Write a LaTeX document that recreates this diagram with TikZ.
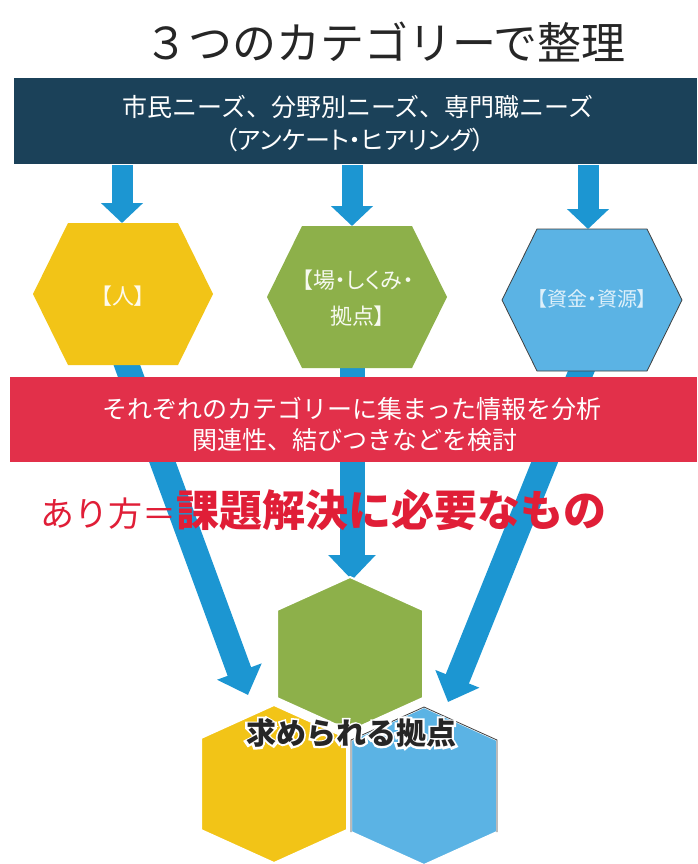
\documentclass[tikz,border=0pt]{standalone}
\usepackage{fontspec}
\setmainfont{Noto Sans CJK JP}
\newfontfamily\jpp[RawFeature=+palt]{Noto Sans CJK JP}
\newfontfamily\haloface[RawFeature={embolden=18}]{Noto Sans CJK JP}
\usetikzlibrary{arrows.meta}
\definecolor{navy}{HTML}{1B4159}
\definecolor{crim}{HTML}{E2304A}
\definecolor{hexy}{HTML}{F2C417}
\definecolor{hexg}{HTML}{8DB04A}
\definecolor{hexb}{HTML}{5BB3E4}
\definecolor{arrowblue}{HTML}{1C96D2}
\definecolor{redtxt}{HTML}{E01E37}
\definecolor{titlegray}{HTML}{262626}
\begin{document}
\begin{tikzpicture}[x=1pt,y=-1pt,
  toparrow/.style={draw=arrowblue, line width=21pt, -{Triangle[width=41pt,length=20pt]}},
  diagarrow/.style={draw=arrowblue, line width=25pt, -{Triangle[width=46pt,length=25pt]}},
  bandtext/.style={text=white, font=\fontsize{25}{25}\selectfont, align=center, inner sep=0pt},
  hexlabel/.style={font=\fontsize{22}{36}\selectfont\jpp, align=center, inner sep=0pt},
]
\useasboundingbox (0,0) rectangle (697,864);
\fill[white] (0,0) rectangle (697,864);

% coordinates for connectors
\coordinate (a1s) at (122,165); \coordinate (a1e) at (122,223);
\coordinate (a2s) at (352,165); \coordinate (a2e) at (352,226);
\coordinate (a3s) at (588,165); \coordinate (a3e) at (588,229);
\coordinate (d1s) at (125,360); \coordinate (d1e) at (248,695);
\coordinate (d2s) at (352,360); \coordinate (d2e) at (352,580);
\coordinate (d3s) at (585,362); \coordinate (d3e) at (448,702);

% long arrows behind boxes
\draw[diagarrow] (d1s) -- (d1e);
\draw[diagarrow] (d2s) -- (d2e);
\draw[diagarrow] (d3s) -- (d3e);

% title
\node[text=titlegray, font=\fontsize{44}{44}\selectfont, inner sep=0pt] (title) at (385,42) {３つのカテゴリーで整理};

% needs band
\fill[navy] (14,78) rectangle (697,164);
\node[bandtext] (needs1) at (358,107) {市民ニーズ、分野別ニーズ、専門職ニーズ};
\node[bandtext] (needs2) at (355,140) {\jpp（アンケート・ヒアリング）};

% top arrows
\draw[toparrow] (a1s) -- (a1e);
\draw[toparrow] (a2s) -- (a2e);
\draw[toparrow] (a3s) -- (a3e);

% top hexagons (flat top)
\fill[hexy] (123,294) ++(-55,-71) -- ++(110,0) -- ++(35,71) -- ++(-35,71) -- ++(-110,0) -- ++(-35,-71) -- cycle;
\fill[hexg] (357,297) ++(-55,-71) -- ++(110,0) -- ++(35,71) -- ++(-35,71) -- ++(-110,0) -- ++(-35,-71) -- cycle;
\filldraw[fill=hexb, draw=black!75, line width=0.8pt] (592,300) ++(-55,-71) -- ++(110,0) -- ++(35,71) -- ++(-35,71) -- ++(-110,0) -- ++(-35,-71) -- cycle;
\node[hexlabel, text=white!92!hexy] (hito) at (123,296) {【人】};
\node[hexlabel, text=white!92!hexg] (ba) at (358,298) {【場・しくみ・\\拠点】};
\node[hexlabel, text=white!80!hexb, font=\fontsize{20}{20}\selectfont\jpp] (shikin) at (592,299) {【資金・資源】};

% red band
\fill[crim] (10,377) rectangle (697,462);
\node[bandtext] (ana1) at (352,409) {それぞれのカテゴリーに集まった情報を分析};
\node[bandtext] (ana2) at (355,440) {関連性、結びつきなどを検討};

% red statement
\node[text=redtxt, anchor=base west, inner sep=0pt] (arikata) at (40,526)
  {\fontsize{34}{34}\selectfont あり方＝\fontsize{43}{43}\selectfont\bfseries 課題解決に必要なもの};

% bottom hexagons (pointy top)
\filldraw[fill=hexg, draw=white, line width=2pt] (350,654) ++(0,-77) -- ++(73,33) -- ++(0,88) -- ++(-73,33) -- ++(-73,-33) -- ++(0,-88) -- cycle;
\filldraw[fill=hexy, draw=white, line width=2pt] (274,782) ++(0,-77) -- ++(73,33) -- ++(0,92) -- ++(-73,33) -- ++(-73,-33) -- ++(0,-92) -- cycle;
\filldraw[fill=hexb, draw=white, line width=2pt] (424,784) ++(0,-77) -- ++(73,33) -- ++(0,92) -- ++(-73,33) -- ++(-73,-33) -- ++(0,-92) -- cycle;
\draw[black!75, line width=0.8pt] (351,832) -- (351,740) -- (424,707) -- (497,740) -- (497,832);

% label with halo
\node[text=white, font=\fontsize{30}{30}\selectfont\haloface, inner sep=0pt] (kyotenhalo) at (351,733) {求められる拠点};
\node[text=titlegray, font=\fontsize{30}{30}\selectfont\bfseries, inner sep=0pt] (kyoten) at (351,733) {求められる拠点};
\end{tikzpicture}
\end{document}
